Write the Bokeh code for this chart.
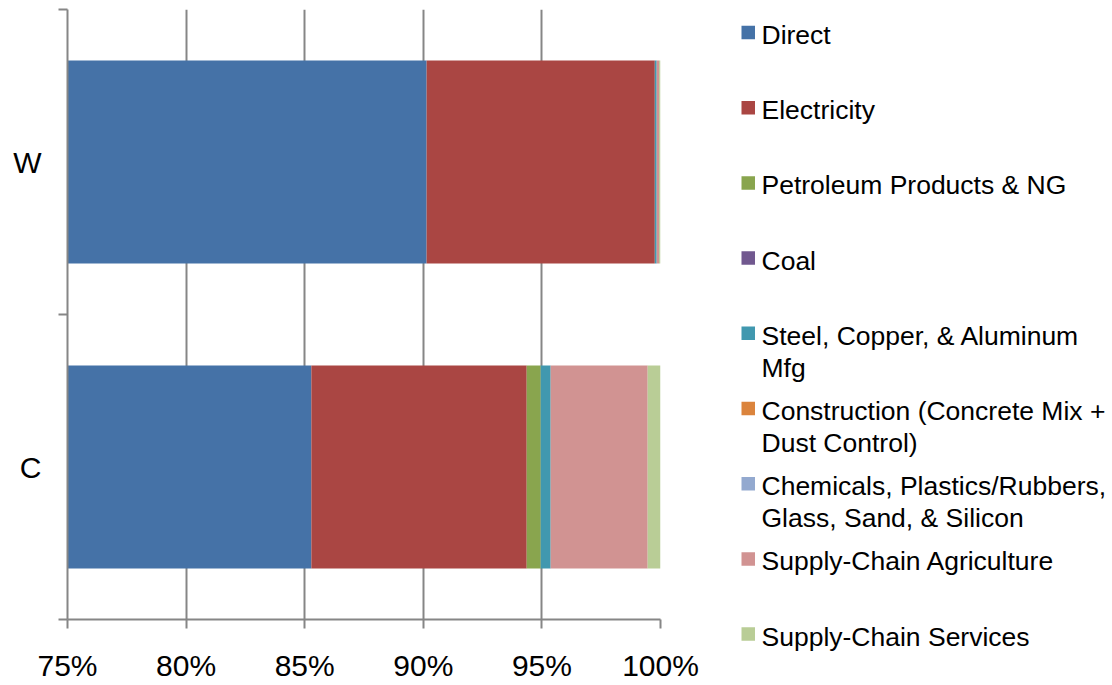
from bokeh.plotting import figure
from bokeh.models import ColumnDataSource, Range1d, FixedTicker
from bokeh.layouts import row, column
from bokeh.embed import file_html
from bokeh.resources import INLINE
from bokeh.core.properties import value

# ---- data (share of total, %) ----
categories = ["W", "C"]
series_names = [
    "Direct",
    "Electricity",
    "Petroleum Products & NG",
    "Coal",
    "Steel, Copper, & Aluminum Mfg",
    "Construction (Concrete Mix + Dust Control)",
    "Chemicals, Plastics/Rubbers, Glass, Sand, & Silicon",
    "Supply-Chain Agriculture",
    "Supply-Chain Services",
]
direct = [90.14, 85.28]
electricity = [9.62, 9.08]
petroleum = [0.0, 0.59]
coal = [0.0, 0.0]
steel = [0.08, 0.42]
construction = [0.0, 0.0]
chemicals = [0.0, 0.0]
agriculture = [0.10, 4.09]
services = [0.06, 0.54]

x_ticks = [75, 80, 85, 90, 95, 100]
x_tick_labels = ["75%", "80%", "85%", "90%", "95%", "100%"]

# legend labels, wrapped as displayed
legend_lines = [
    ["Direct"],
    ["Electricity"],
    ["Petroleum Products & NG"],
    ["Coal"],
    ["Steel, Copper, & Aluminum", "Mfg"],
    ["Construction (Concrete Mix +", "Dust Control)"],
    ["Chemicals, Plastics/Rubbers,", "Glass, Sand, & Silicon"],
    ["Supply-Chain Agriculture"],
    ["Supply-Chain Services"],
]

colors = ["#4572A7", "#AA4643", "#89A54E", "#71588F", "#4198AF",
          "#DB843D", "#93A9CF", "#D19392", "#B9CD96"]

FONT = "Liberation Sans"
AXIS_FONT_SIZE = "30px"
LEGEND_FONT_SIZE = "26.5px"
AXIS_GRAY = "#868686"
TOTAL_H = 685

# ---- bar chart ----
keys = ["direct", "electricity", "petroleum", "coal", "steel",
        "construction", "chemicals", "agriculture", "services"]
series = [direct, electricity, petroleum, coal, steel,
          construction, chemicals, agriculture, services]
cat_pos = [len(categories) - 0.5 - i for i in range(len(categories))]  # first category on top
data = dict(y=cat_pos, cat=categories)
for k, s in zip(keys, series):
    data[k] = s
source = ColumnDataSource(data)

p = figure(width=700, height=TOTAL_H,
           x_range=Range1d(75, 100), y_range=Range1d(0, len(categories)),
           output_backend="svg", toolbar_location=None,
           min_border_left=67, min_border_right=40,
           min_border_top=9, min_border_bottom=66)
p.outline_line_color = None
p.background_fill_color = "white"
p.border_fill_color = "white"

p.hbar_stack(keys, y="y", height=0.666, color=colors, line_color=None,
             source=source)

# x axis
p.xaxis.ticker = FixedTicker(ticks=x_ticks)
p.xaxis.major_label_overrides = {t: l for t, l in zip(x_ticks, x_tick_labels)}
p.xaxis.axis_line_color = AXIS_GRAY
p.xaxis.axis_line_width = 2
p.xaxis.major_tick_line_color = AXIS_GRAY
p.xaxis.major_tick_line_width = 2
p.xaxis.major_tick_out = 9
p.xaxis.major_tick_in = 0
p.xaxis.minor_tick_line_color = None
p.xaxis.major_label_standoff = 20
p.xaxis.major_label_text_font = FONT
p.xaxis.major_label_text_font_size = AXIS_FONT_SIZE
p.xaxis.major_label_text_color = "black"

# y axis: labels at category centres, tick marks at category boundaries
p.yaxis.ticker = FixedTicker(ticks=cat_pos,
                             minor_ticks=list(range(len(categories) + 1)))
p.yaxis.major_label_overrides = {y: c for y, c in zip(cat_pos, categories)}
p.yaxis.axis_line_color = AXIS_GRAY
p.yaxis.axis_line_width = 2
p.yaxis.major_tick_out = 0
p.yaxis.major_tick_in = 0
p.yaxis.major_tick_line_color = None
p.yaxis.minor_tick_line_color = AXIS_GRAY
p.yaxis.minor_tick_line_width = 2
p.yaxis.minor_tick_out = 9
p.yaxis.minor_tick_in = 0
p.yaxis.major_label_standoff = 17
p.yaxis.major_label_text_font = FONT
p.yaxis.major_label_text_font_size = AXIS_FONT_SIZE
p.yaxis.major_label_text_color = "black"
p.yaxis.major_label_orientation = "horizontal"

p.xgrid.grid_line_color = AXIS_GRAY
p.xgrid.grid_line_width = 2
p.ygrid.grid_line_color = None

# ---- legend panel (page pixel coordinates, y downwards) ----
LEG_W = 412
leg = figure(width=LEG_W, height=TOTAL_H,
             x_range=Range1d(0, LEG_W), y_range=Range1d(TOTAL_H, 0),
             output_backend="svg", toolbar_location=None,
             x_axis_type=None, y_axis_type=None, min_border=0)
leg.outline_line_color = None
leg.grid.visible = False

slot_top, slot_step = 32.0, 75.2
sq_left, sq_size, text_x = 41, 13.5, 61
line_step, baseline_off = 32, 2.5

sq = dict(left=[], right=[], top=[], bottom=[], color=[])
txt = dict(x=[], y=[], text=[])
for i, (lines, c) in enumerate(zip(legend_lines, colors)):
    cy = slot_top + i * slot_step
    sq["left"].append(sq_left)
    sq["right"].append(sq_left + sq_size)
    sq["top"].append(cy - sq_size / 2)
    sq["bottom"].append(cy + sq_size / 2)
    sq["color"].append(c)
    for j, ln in enumerate(lines):
        txt["x"].append(text_x)
        txt["y"].append(cy + baseline_off + j * line_step)
        txt["text"].append(ln)

leg.quad(left="left", right="right", top="top", bottom="bottom",
         color="color", line_color=None, source=ColumnDataSource(sq))
leg.text(x="x", y="y", text="text", source=ColumnDataSource(txt),
         text_font=value(FONT), text_font_size=LEGEND_FONT_SIZE,
         text_color="black", text_baseline="alphabetic", text_align="left")

# the legend sits in its own column so its frame keeps the full height
layout = row(p, column(leg))

with open("out.html", "w") as f:
    f.write(file_html(layout, INLINE))
